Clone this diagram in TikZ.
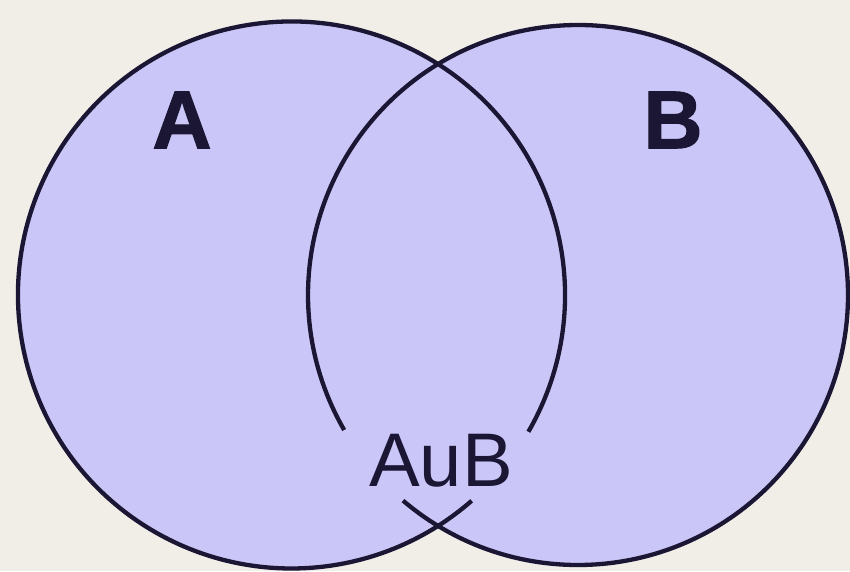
\documentclass[tikz,border=0pt]{standalone}
\usepackage{fontspec}
\setmainfont{Liberation Sans}
\newfontfamily\heavyfont[BoldFeatures={FakeBold=1.4}]{Liberation Sans}
\definecolor{bgc}{HTML}{F1EEE8}
\definecolor{fillc}{HTML}{CAC7F8}
\definecolor{linec}{HTML}{1B1633}
\tikzset{
  ring/.style={draw=linec, line width=4.3pt},
  setlabel/.style={font=\heavyfont\fontsize{82}{82}\selectfont\bfseries, text=linec, inner sep=0pt},
  unionlabel/.style={font=\fontsize{76}{76}\selectfont, text=linec, inner sep=0pt}
}
\begin{document}
\begin{tikzpicture}[x=1pt,y=1pt]
\fill[bgc] (0,0) rectangle (850,571);
\useasboundingbox (0,0) rectangle (850,571);
\coordinate (cA) at (291.5,276);
\coordinate (cB) at (578,276);
% fill both sets
\fill[fillc] (cA) circle[radius=273.5];
\fill[fillc] (cB) circle[radius=270];
% outlines with gaps around the label
\draw[ring] ([shift={(cA)}] -30:273.5) arc[start angle=-30, end angle=311.2, radius=273.5];
\draw[ring] ([shift={(cB)}] 229.6:270) arc[start angle=229.6, end angle=570, radius=270];
% labels
\node[setlabel] (labA) at (182,451) {A};
\node[setlabel] (labB) at (673,451) {B};
\node[unionlabel] (labAB) at (441,110) {AuB};
\end{tikzpicture}
\end{document}
